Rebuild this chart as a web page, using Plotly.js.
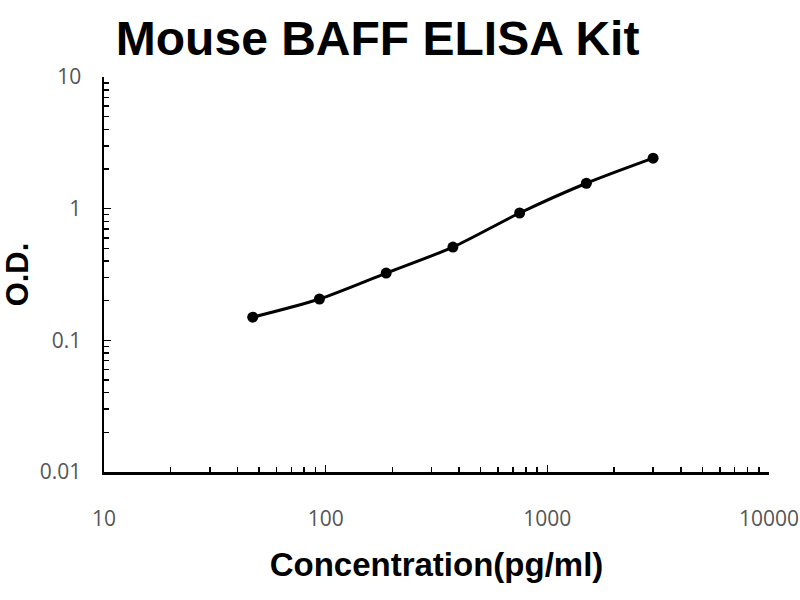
<!DOCTYPE html>
<html>
<head>
<meta charset="utf-8">
<script src="https://cdn.plot.ly/plotly-3.0.1.min.js"></script>
<style>html,body{margin:0;padding:0;background:#fff;}#chart{width:800px;height:600px;}</style>
</head>
<body>
<div id="chart"></div>
<script>
var concentration = [46.875, 93.75, 187.5, 375, 750, 1500, 3000];
var od = [0.150, 0.206, 0.324, 0.511, 0.927, 1.56, 2.42];
var xTickVals = [10, 100, 1000, 10000];
var xTickText = ['10', '100', '1000', '10000'];
var yTickVals = [0.01, 0.1, 1, 10];
var yTickText = ['0.01', '0.1', '1', '10'];
var minorDigits = [2, 3, 4, 5, 6, 7, 8, 9];

function minorTicks(majors) {
  var out = [];
  for (var i = 0; i < majors.length - 1; i++) {
    for (var j = 0; j < minorDigits.length; j++) out.push(majors[i] * minorDigits[j]);
  }
  return out;
}

var trace = {
  x: concentration,
  y: od,
  type: 'scatter',
  mode: 'lines+markers',
  line: {color: '#000', width: 3, shape: 'spline', smoothing: 0.8},
  marker: {color: '#000', size: 11},
  hoverinfo: 'skip'
};

var tickFont = {family: 'Open Sans, Liberation Sans, sans-serif', size: 21, color: '#555'};
var boldFont = 'Liberation Sans, Arial, sans-serif';

var layout = {
  width: 800, height: 600,
  margin: {l: 104, r: 31, t: 77, b: 128},
  paper_bgcolor: '#fff', plot_bgcolor: '#fff',
  showlegend: false,
  title: {
    text: '<b>Mouse BAFF ELISA Kit</b>',
    font: {family: boldFont, size: 48, color: '#000'},
    x: 0.472, xanchor: 'center', y: 0.937, yanchor: 'middle'
  },
  xaxis: {
    type: 'log', range: [1, 4],
    tickvals: xTickVals, ticktext: xTickText,
    ticks: 'inside', ticklen: 7, tickwidth: 1.5, tickcolor: '#000',
    minor: {tickvals: minorTicks(xTickVals), ticks: 'inside', ticklen: 5, tickwidth: 1.5, tickcolor: '#000', showgrid: false},
    showline: true, linecolor: '#000', linewidth: 2.5,
    showgrid: false, zeroline: false,
    tickfont: tickFont, ticklabelstandoff: 26,
    title: {text: '<b>Concentration(pg/ml)</b>', font: {family: boldFont, size: 33, color: '#000'}, standoff: 22}
  },
  yaxis: {
    type: 'log', range: [-2, 1],
    tickvals: yTickVals, ticktext: yTickText,
    ticks: 'inside', ticklen: 7, tickwidth: 1.5, tickcolor: '#000',
    minor: {tickvals: minorTicks(yTickVals), ticks: 'inside', ticklen: 5, tickwidth: 1.5, tickcolor: '#000', showgrid: false},
    showline: true, linecolor: '#000', linewidth: 2.5,
    showgrid: false, zeroline: false,
    tickfont: tickFont, ticklabelstandoff: 16,
    title: {text: '<b>O.D.</b>', font: {family: boldFont, size: 31, color: '#000'}, standoff: 12}
  }
};

Plotly.newPlot('chart', [trace], layout, {staticPlot: true, displayModeBar: false});
</script>
</body>
</html>
